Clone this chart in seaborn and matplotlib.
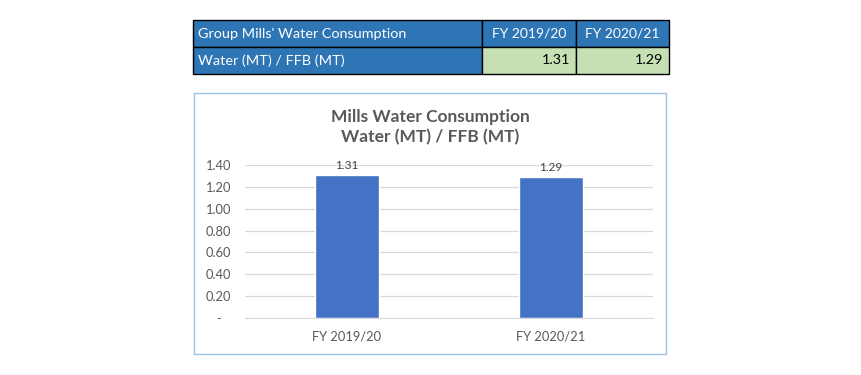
import matplotlib
matplotlib.use("Agg")
import matplotlib.pyplot as plt
import seaborn as sns
import pandas as pd
from matplotlib.patches import Rectangle

categories = ["FY 2019/20", "FY 2020/21"]
values = [1.31, 1.29]
table_title = "Group Mills' Water Consumption"
row_label = "Water (MT) / FFB (MT)"
chart_title = "Mills Water Consumption\nWater (MT) / FFB (MT)"
yticks = [0, 0.2, 0.4, 0.6, 0.8, 1.0, 1.2, 1.4]

sns.set_style("white")
plt.rcParams["font.family"] = ["Lato", "DejaVu Sans"]

W, H = 862, 375
fig = plt.figure(figsize=(W / 100, H / 100), dpi=100)

def fx(x):
    return x / W

def fy(y):
    return 1 - y / H

# ---- table ----
blue = "#2E75B6"
green = "#C6E0B4"
cols = [193, 482, 576, 669]
rows = [20, 47, 74]
for r in range(2):
    for c in range(3):
        x0, x1 = cols[c], cols[c + 1]
        y0, y1 = rows[r], rows[r + 1]
        face = blue if (r == 0 or c == 0) else green
        fig.add_artist(Rectangle((fx(x0), fy(y1)), fx(x1 - x0), (y1 - y0) / H,
                                 transform=fig.transFigure, facecolor=face,
                                 edgecolor="black", linewidth=1.0, zorder=-1))
ymid0 = (rows[0] + rows[1]) / 2
ymid1 = (rows[1] + rows[2]) / 2
fs_tab = 10.4
fig.text(fx(cols[0] + 5), fy(ymid0), table_title, color="white", fontsize=fs_tab,
         va="center", ha="left")
for i, cat in enumerate(categories):
    fig.text(fx((cols[i + 1] + cols[i + 2]) / 2), fy(ymid0), cat, color="white",
             fontsize=10, va="center", ha="center")
fig.text(fx(cols[0] + 5), fy(ymid1), row_label, color="white", fontsize=fs_tab,
         va="center", ha="left")
for i, v in enumerate(values):
    fig.text(fx(cols[i + 2] - 6), fy(ymid1), f"{v:.2f}", color="black",
             fontsize=fs_tab, va="center", ha="right")

# ---- chart box ----
fig.add_artist(Rectangle((fx(194), fy(354)), fx(666 - 194), (354 - 93) / H,
                         transform=fig.transFigure, facecolor="white",
                         edgecolor="#9DC3E6", linewidth=1.0, zorder=-2))
fig.text(fx(430), fy(127), chart_title, ha="center", va="center",
         fontsize=12.5, fontweight="bold", color="#595959", linespacing=1.3)

ax = fig.add_axes([fx(245), fy(318), fx(653 - 245), (318 - 165) / H])
df = pd.DataFrame({"cat": categories, "val": values})
sns.barplot(data=df, x="cat", y="val", ax=ax, color="#4472C4", width=0.314,
            saturation=1)
ax.set_ylim(0, 1.4)
ax.set_xlim(-0.5, 1.5)
ax.set_yticks(yticks)
ax.set_yticklabels(["-   " if t == 0 else f"{t:.2f}" for t in yticks])
ax.set_xlabel("")
ax.set_ylabel("")
ax.grid(axis="y", color="#D9D9D9", linewidth=0.9)
ax.set_axisbelow(True)
for s in ["top", "right", "left"]:
    ax.spines[s].set_visible(False)
ax.spines["bottom"].set_color("#D9D9D9")
ax.tick_params(axis="both", length=0, colors="#595959", labelsize=9.3)
ax.tick_params(axis="x", pad=9)
ax.tick_params(axis="y", pad=10)
ax.patch.set_alpha(0)
for i, v in enumerate(values):
    ax.annotate(f"{v:.2f}", (i, v), xytext=(0, 3), textcoords="offset points",
                ha="center", va="bottom", fontsize=8.5, color="#404040")

fig.savefig("out.png", dpi=100)
